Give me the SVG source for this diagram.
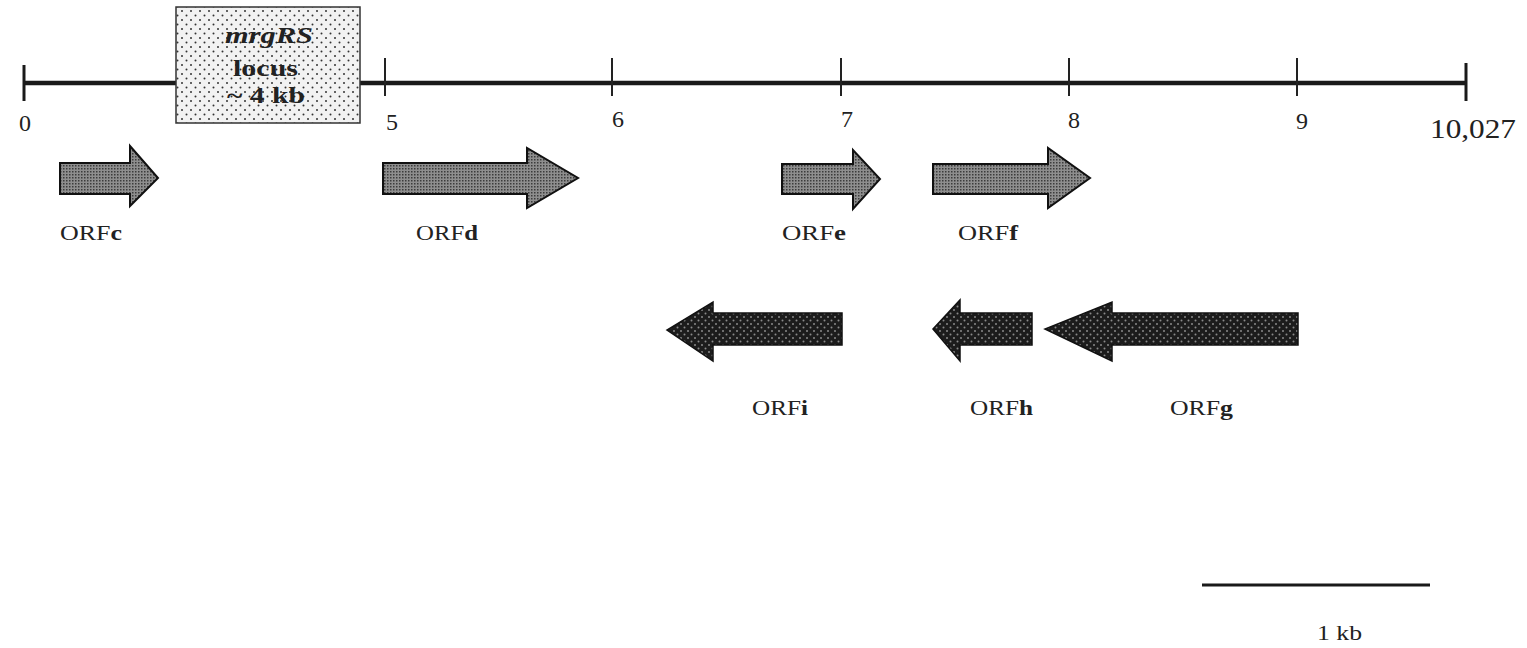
<svg xmlns="http://www.w3.org/2000/svg" width="1527" height="648" viewBox="0 0 1527 648">
<defs>
<pattern id="pBox" width="9" height="9" patternUnits="userSpaceOnUse">
<rect width="9" height="9" fill="#f2f2f2"/>
<circle cx="2" cy="2" r="1" fill="#333"/>
<circle cx="6.5" cy="6.5" r="1" fill="#333"/>
</pattern>
<pattern id="pFwd" width="3" height="3" patternUnits="userSpaceOnUse">
<rect width="3" height="3" fill="#8e8e8e"/>
<rect x="0" y="0" width="1.5" height="1.5" fill="#3c3c3c"/>
</pattern>
<pattern id="pRev" width="7" height="7" patternUnits="userSpaceOnUse">
<rect width="7" height="7" fill="#1c1c1c"/>
<circle cx="2" cy="2" r="1" fill="#8a8a8a"/>
<circle cx="5.5" cy="5.5" r="1" fill="#8a8a8a"/>
</pattern>
</defs>
<style>
.num{font-family:"Liberation Serif",serif;font-size:24px;fill:#222}
.lbl{font-family:"Liberation Serif",serif;font-size:22px;fill:#222}
.box{font-family:"Liberation Serif",serif;font-size:23px;font-weight:bold;fill:#222}
.fwd{fill:url(#pFwd);stroke:#111;stroke-width:2;stroke-linejoin:miter}
.rev{fill:url(#pRev);stroke:#111;stroke-width:1.5;stroke-linejoin:miter}
.tick{stroke:#222;stroke-width:2}
</style>
<g id="map">
<line x1="23" y1="83" x2="1467" y2="83" stroke="#1a1a1a" stroke-width="4.5"/>
<line x1="24" y1="65" x2="24" y2="101" stroke="#1a1a1a" stroke-width="3"/>
<line x1="1466" y1="63" x2="1466" y2="101" stroke="#1a1a1a" stroke-width="3"/>
<line class="tick" x1="385" y1="58" x2="385" y2="96"/>
<line class="tick" x1="612" y1="58" x2="612" y2="96"/>
<line class="tick" x1="841" y1="58" x2="841" y2="96"/>
<line class="tick" x1="1069" y1="58" x2="1069" y2="96"/>
<line class="tick" x1="1297" y1="58" x2="1297" y2="96"/>
<text class="num" x="19" y="131">0</text>
<text class="num" x="386" y="130">5</text>
<text class="num" x="612" y="127">6</text>
<text class="num" x="841" y="127">7</text>
<text class="num" x="1068" y="128">8</text>
<text class="num" x="1296" y="129">9</text>
<text class="num" x="1430" y="138" style="font-size:28px" textLength="86" lengthAdjust="spacingAndGlyphs">10,027</text>
</g>
<g id="locus">
<rect x="176" y="7" width="184" height="116" fill="url(#pBox)" stroke="#333" stroke-width="1.5"/>
<text class="box" x="225" y="43" font-style="italic" textLength="88" lengthAdjust="spacingAndGlyphs">mrgRS</text>
<text class="box" x="233" y="76" textLength="65" lengthAdjust="spacingAndGlyphs">locus</text>
<text class="box" x="227" y="103" textLength="78" lengthAdjust="spacingAndGlyphs">~ 4 kb</text>
</g>
<g id="ORFc">
<polygon class="fwd" points="60,163 130,163 130,146 158,178 130,206 130,194 60,194"/>
<text class="lbl" x="60" y="240" textLength="62" lengthAdjust="spacingAndGlyphs">ORF<tspan font-weight="bold">c</tspan></text>
</g>
<g id="ORFd">
<polygon class="fwd" points="383,163 527,163 527,148 578,178 527,208 527,194 383,194"/>
<text class="lbl" x="416" y="240" textLength="62" lengthAdjust="spacingAndGlyphs">ORF<tspan font-weight="bold">d</tspan></text>
</g>
<g id="ORFe">
<polygon class="fwd" points="782,164 853,164 853,150 880,179 853,209 853,194 782,194"/>
<text class="lbl" x="782" y="240" textLength="64" lengthAdjust="spacingAndGlyphs">ORF<tspan font-weight="bold">e</tspan></text>
</g>
<g id="ORFf">
<polygon class="fwd" points="933,164 1048,164 1048,148 1090,178 1048,208 1048,194 933,194"/>
<text class="lbl" x="958" y="240" textLength="60" lengthAdjust="spacingAndGlyphs">ORF<tspan font-weight="bold">f</tspan></text>
</g>
<g id="ORFi">
<polygon class="rev" points="842,313 713,313 713,302 667,330 713,361 713,345 842,345"/>
<text class="lbl" x="752" y="415" textLength="56" lengthAdjust="spacingAndGlyphs">ORF<tspan font-weight="bold">i</tspan></text>
</g>
<g id="ORFh">
<polygon class="rev" points="1032,313 960,313 960,300 933,329 960,361 960,345 1032,345"/>
<text class="lbl" x="970" y="415" textLength="63" lengthAdjust="spacingAndGlyphs">ORF<tspan font-weight="bold">h</tspan></text>
</g>
<g id="ORFg">
<polygon class="rev" points="1298,313 1112,313 1112,302 1045,329 1112,361 1112,345 1298,345"/>
<text class="lbl" x="1170" y="415" textLength="63" lengthAdjust="spacingAndGlyphs">ORF<tspan font-weight="bold">g</tspan></text>
</g>
<g id="scalebar">
<line x1="1202" y1="585" x2="1430" y2="585" stroke="#1a1a1a" stroke-width="3"/>
<text class="lbl" x="1317" y="640" textLength="45" lengthAdjust="spacingAndGlyphs">1 kb</text>
</g>
</svg>
